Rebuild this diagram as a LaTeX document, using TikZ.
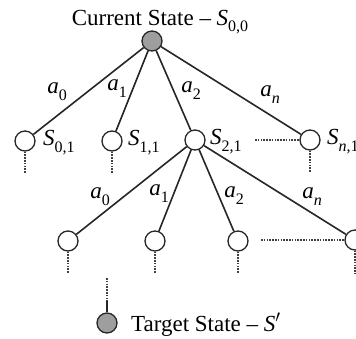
\documentclass[tikz,border=0pt]{standalone}
\usepackage{fontspec}
\setmainfont{Liberation Serif}
\newcommand{\vsub}[2]{\textit{#1}\raisebox{-0.3em}{\fontsize{16}{17}\selectfont #2}}
\begin{document}
\begin{tikzpicture}[x=1pt,y=-1pt,
  st/.style={circle,draw=black!85,line width=1.3pt,minimum size=20pt,inner sep=0pt,fill=white},
  gst/.style={st,fill=black!38},
  edge/.style={line width=1.6pt,black!85},
  dots/.style={line width=1.4pt,black!75,dash pattern=on 1.6pt off 1.2pt},
  lbl/.style={inner sep=0pt,font=\fontsize{23}{25}\selectfont}]
\useasboundingbox (0,0) rectangle (356,338);
% nodes
\node[gst] (root) at (152,41) {};
\node[lbl,anchor=base] (top) at (160,25) {Current State -- \vsub{S}{0,0}};
\node[st] (s01) at (25,141) {};
\node[st] (s11) at (112,141) {};
\node[st] (s21) at (195,140) {};
\node[st] (sn1) at (310,140) {};
\node[lbl,anchor=west] (l01) at (43,143) {\vsub{S}{0,1}};
\node[lbl,anchor=west] (l11) at (128,143) {\vsub{S}{1,1}};
\node[lbl,anchor=west] (l21) at (210,142) {\vsub{S}{2,1}};
\node[lbl,anchor=west] (ln1) at (327,142) {\vsub{S}{\textit{n},1}};
\node[st] (t0) at (68,241) {};
\node[st] (t1) at (155,241) {};
\node[st] (t2) at (238,241) {};
\node[st] (tn) at (355,240) {};
\node[gst] (tgt) at (107,323) {};
\node[lbl,anchor=west] (ltgt) at (131,325) {Target State -- \textit{S}$'$};
% edges level 1
\draw[edge] (root) -- (s01);
\draw[edge] (root) -- (s11);
\draw[edge] (root) -- (s21);
\draw[edge] (root) -- (sn1);
\node[lbl] (a10) at (57,92) {\vsub{a}{0}};
\node[lbl] (a11) at (117,89) {\vsub{a}{1}};
\node[lbl] (a12) at (191,91) {\vsub{a}{2}};
\node[lbl] (a1n) at (270,95) {\vsub{a}{\textit{n}}};
% edges level 2
\draw[edge] (s21) -- (t0);
\draw[edge] (s21) -- (t1);
\draw[edge] (s21) -- (t2);
\draw[edge] (s21) -- (tn);
\node[lbl] (a20) at (100,197) {\vsub{a}{0}};
\node[lbl] (a21) at (159,194) {\vsub{a}{1}};
\node[lbl] (a22) at (234,196) {\vsub{a}{2}};
\node[lbl] (a2n) at (312,197) {\vsub{a}{\textit{n}}};
% dotted continuations
\coordinate (h1a) at (255,140);
\draw[dots] (h1a) -- (sn1);
\coordinate (h2a) at (261,240);
\draw[dots] (h2a) -- (tn);
\coordinate (d01) at (25,173);
\coordinate (d11) at (112,173);
\coordinate (dn1) at (310,173);
\draw[dots] (s01) -- (d01);
\draw[dots] (s11) -- (d11);
\draw[dots] (sn1) -- (dn1);
\coordinate (e0) at (68,274);
\coordinate (e1) at (155,274);
\coordinate (e2) at (238,274);
\coordinate (en) at (355,274);
\draw[dots] (t0) -- (e0);
\draw[dots] (t1) -- (e1);
\draw[dots] (t2) -- (e2);
\draw[dots] (tn) -- (en);
\coordinate (g1) at (107,278);
\coordinate (g2) at (107,301);
\draw[dots] (g1) -- (g2);
\draw[edge] (g2) -- (tgt);
\end{tikzpicture}
\end{document}
